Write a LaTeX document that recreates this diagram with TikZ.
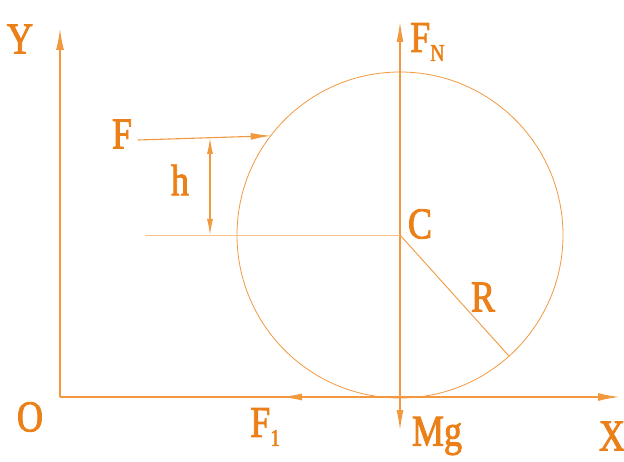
\documentclass[tikz,border=0pt]{standalone}
\usepackage{fontspec}
\setmainfont{Liberation Serif}
\newfontfamily\labelfont[FakeStretch=0.82, FakeBold=2]{Liberation Serif}
\usepackage{tikz}
\usetikzlibrary{arrows.meta, positioning, calc}
\usepackage{xcolor}
\definecolor{lineorange}{RGB}{242,152,62}
\definecolor{textorange}{RGB}{236,128,24}

\tikzset{
  axis/.style={lineorange, line width=1.8pt, -{Latex[length=22pt, width=8pt]}},
  force/.style={lineorange, line width=1.1pt, -{Latex[length=20pt, width=7pt]}},
  label/.style={textorange, font=\labelfont\fontsize{44}{46}\selectfont, inner sep=0pt},
}

\begin{document}
\begin{tikzpicture}[x=1pt, y=-1pt]
  \useasboundingbox (0,0) rectangle (624,462);
  % axes
  \coordinate (O) at (60,397);
  \coordinate (Yend) at (60,28);
  \coordinate (Xend) at (620,397);
  \draw[axis] (O) -- (Yend);
  \draw[axis] (O) -- (Xend);
  \node[label] (Ylabel) at (20,39) {Y};
  \node[label] (Olabel) at (30,417) {O};
  \node[label] (Xlabel) at (612,436) {X};
  % wheel
  \coordinate (C) at (400,235);
  \draw[lineorange, line width=0.8pt] (C) circle (163);
  \coordinate (Rend) at ($(C)+(48:163)$);
  \draw[lineorange, line width=0.9pt] (C) -- (Rend);
  \node[label] (Clabel) at (420,224) {C};
  \node[label] (Rlabel) at (483,297) {R};
  % normal force and weight
  \coordinate (Ntip) at (400,22);
  \coordinate (Gtip) at (400,430);
  \draw[force] (C) -- (Ntip);
  \draw[force] (C) -- (Gtip);
  \node[label, anchor=west] (Nlabel) at (410,42) {F\raisebox{-9pt}{\fontsize{24}{26}\selectfont N}};
  \node[label] (Glabel) at (437,436) {Mg};
  % friction
  \coordinate (T) at (400,397);
  \coordinate (Ftip) at (282,397);
  \draw[force] (T) -- (Ftip);
  \node[label, anchor=west] (Flabel1) at (250,427) {F\raisebox{-9pt}{\fontsize{24}{26}\selectfont 1}};
  % pushing force
  \coordinate (Fstart) at (138,140);
  \coordinate (Ftip2) at ($(C)+(-142.5:163)$);
  \draw[force] (Fstart) -- (Ftip2);
  \node[label] (Flabel) at (122,134) {F};
  % height h
  \coordinate (Cleft) at (145,235);
  \draw[lineorange!60, line width=0.5pt] (Cleft) -- (C);
  \coordinate (Htop) at (210,138);
  \coordinate (Hbot) at (210,235);
  \draw[lineorange, line width=1.1pt, {Latex[length=16pt, width=6pt]}-{Latex[length=16pt, width=6pt]}] (Htop) -- (Hbot);
  \node[label] (Hlabel) at (180,180) {h};
\end{tikzpicture}
\end{document}
